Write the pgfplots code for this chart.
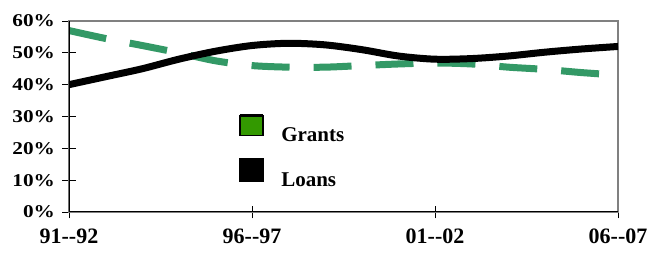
\documentclass[border=0pt]{standalone}
\usepackage{pgfplots}
\pgfplotsset{compat=1.18}
\usepackage{fontspec}
\setmainfont{Liberation Serif}
\usepackage{graphicx}
\definecolor{grantline}{HTML}{339966}
\definecolor{grantleg}{HTML}{339900}
\begin{document}
\begin{tikzpicture}
\begin{axis}[name=ax, scale only axis, width=549bp, height=191bp,
  xmin=0, xmax=15, ymin=0, ymax=60,
  xtick={0,5,10,15}, xticklabels={91{-}{-}92,96{-}{-}97,01{-}{-}02,06{-}{-}07},
  ytick={0,10,20,30,40,50,60},
  yticklabel={\scalebox{1.18}[1]{\fontsize{18bp}{18bp}\selectfont\bfseries\pgfmathprintnumber[assume math mode=true]{\tick}\%}},
  xticklabel style={font=\fontsize{22bp}{22bp}\selectfont\bfseries, anchor=north, yshift=-7bp},
  yticklabel style={anchor=east, xshift=-4bp},
  tick align=center, major tick length=13bp,
  xtick pos=left, ytick pos=left,
  tick style={black, line width=0.8bp},
  axis line style={draw=gray, line width=1.2bp},
  legend style={at={(0.308,0.515)}, anchor=north west, draw=none, fill=none,
    font=\fontsize{21bp}{21bp}\selectfont\bfseries, row sep=13bp, column sep=15bp, inner sep=0pt},
  legend cell align=left,
]
\addplot[forget plot, grantline, line width=7bp, smooth, dash pattern=on 38bp off 24bp] coordinates {
(0,57) (1,54.5) (2,52.3) (3,50) (4,47.5) (5,46) (6,45.5) (7,45.5) (8,46) (9,46.5) (10,46.8) (11,46.5) (12,45.5) (13,44.8) (14,43.8) (15,43)};
\addplot[forget plot, black, line width=7bp, smooth] coordinates {
(0,40) (1,42.5) (2,45) (3,48) (4,50.5) (5,52.3) (6,53) (7,52.5) (8,51) (9,49) (10,48) (11,48.2) (12,49) (13,50.2) (14,51.2) (15,52)};
\addlegendimage{legend image code/.code={\draw[fill=grantleg, draw=black, line width=1.5bp] (0bp,0bp) rectangle (23bp,20bp); \draw[black, line width=3bp] (0bp,20bp) -- (23bp,20bp);}}
\addlegendentry{Grants}
\addlegendimage{legend image code/.code={\fill[black] (-0.75bp,-0.75bp) rectangle (23.75bp,21.75bp);}}
\addlegendentry{Loans}
\draw[black, line width=1.2bp] (rel axis cs:0,1) -- (rel axis cs:0,0) -- (rel axis cs:1,0);
\end{axis}
\pgfresetboundingbox
\path[use as bounding box] ([shift={(-69bp,-45bp)}]ax.south west) rectangle ([shift={(30bp,21bp)}]ax.north east);
\end{tikzpicture}
\end{document}
